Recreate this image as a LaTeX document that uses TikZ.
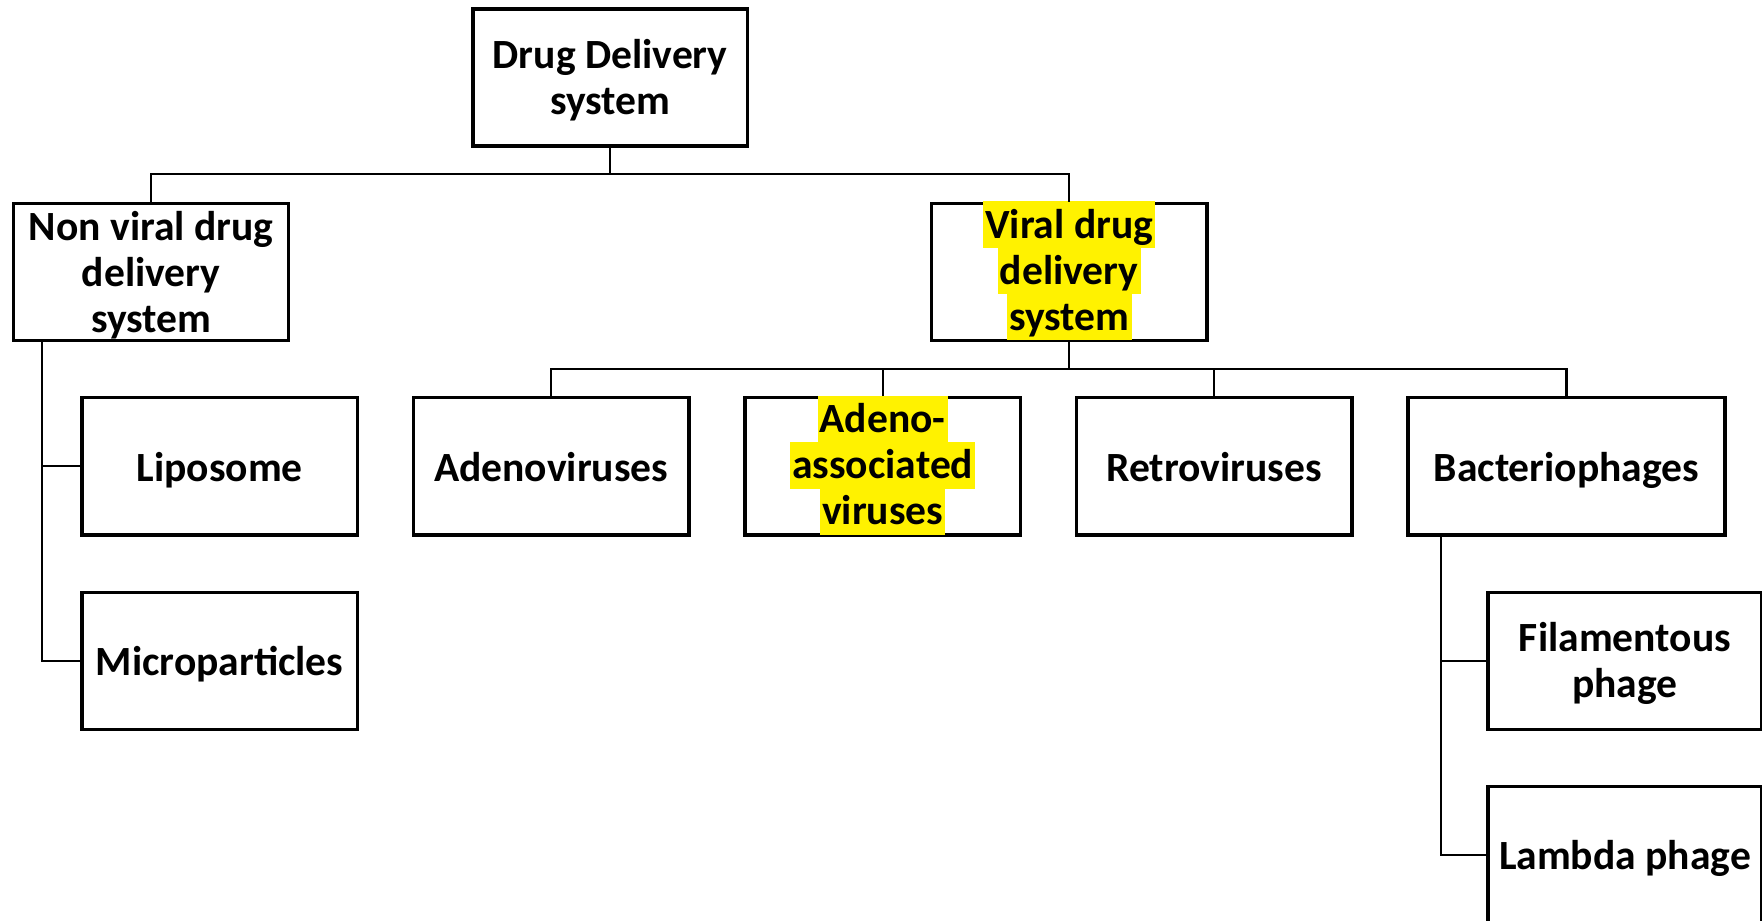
\documentclass[tikz,border=0pt]{standalone}
\usepackage{fontspec}
\setmainfont{Carlito}
\newcommand{\bt}[1]{\raisebox{0pt}[\dimexpr\height+8pt\relax][\depth]{\begin{tabular}{@{}c@{}}#1\end{tabular}}}
\newcommand{\btone}[1]{\raisebox{0pt}[\dimexpr\height+10pt\relax][\depth]{\begin{tabular}{@{}c@{}}#1\end{tabular}}}
\newcommand{\btthree}[1]{\raisebox{0pt}[\dimexpr\height+4pt\relax][\dimexpr\depth-6pt\relax]{\begin{tabular}{@{}c@{}}#1\end{tabular}}}
\begin{document}
\begin{tikzpicture}[x=1pt,y=-1pt,
  box/.style={draw=black,line width=3pt,minimum height=122pt,inner sep=0pt,align=center,
    font=\fontsize{37}{41}\selectfont\bfseries},
  hl/.style={fill=yellow,inner xsep=2pt,inner ysep=0pt,minimum height=42pt,
    text height=31pt,text depth=7pt,font=\fontsize{37}{41}\selectfont\bfseries},
  conn/.style={draw=black,line width=1.8pt}]
\useasboundingbox (0,0) rectangle (1568,819);
% boxes
\node[box,minimum width=244pt] (top) at (543,69) {\bt{Drug Delivery\\system}};
\node[box,minimum width=245pt] (nonviral) at (134.5,242) {\btthree{Non viral drug\\delivery\\system}};
\node[box,minimum width=245pt] (viral) at (951.5,242) {};
\node[box,minimum width=245pt] (lipo) at (195.5,415) {\btone{Liposome}};
\node[box,minimum width=245pt] (adeno) at (490.5,415) {\btone{Adenoviruses}};
\node[box,minimum width=245pt] (aav) at (785.5,415) {};
\node[box,minimum width=245pt] (retro) at (1080.5,415) {\btone{Retroviruses}};
\node[box,minimum width=282pt] (bact) at (1394,415) {\btone{Bacteriophages}};
\node[box,minimum width=245pt] (micro) at (195.5,588) {\btone{Microparticles}};
\node[box,minimum width=244pt] (fila) at (1446,588) {\bt{Filamentous\\phage}};
\node[box,minimum width=244pt] (lambda) at (1446,761) {\btone{Lambda phage}};
% highlighted texts
\node[hl] (v1) at (951.5,200) {Viral drug};
\node[hl] (v2) at (951.5,241) {delivery};
\node[hl] (v3) at (951.5,282) {system};
\node[hl] (a1) at (785.5,373) {Adeno-};
\node[hl] (a2) at (785.5,414) {associated};
\node[hl] (a3) at (785.5,455) {viruses};
% connectors
\coordinate (j1) at (543,155);
\coordinate (j2) at (951.5,328);
\coordinate (t1) at (37,0);
\coordinate (t2) at (1282,0);
\draw[conn] (top.south) -- (j1);
\draw[conn] (nonviral.north) |- (j1) -| (viral.north);
\draw[conn] (viral.south) -- (j2);
\draw[conn] (adeno.north) |- (j2) -| (bact.north);
\draw[conn] (aav.north) -- (aav.north |- j2);
\draw[conn] (retro.north) -- (retro.north |- j2);
\draw[conn] (t1 |- nonviral.south) |- (micro.west);
\draw[conn] (t1 |- lipo.west) -- (lipo.west);
\draw[conn] (t2 |- bact.south) |- (lambda.west);
\draw[conn] (t2 |- fila.west) -- (fila.west);
\end{tikzpicture}
\end{document}
